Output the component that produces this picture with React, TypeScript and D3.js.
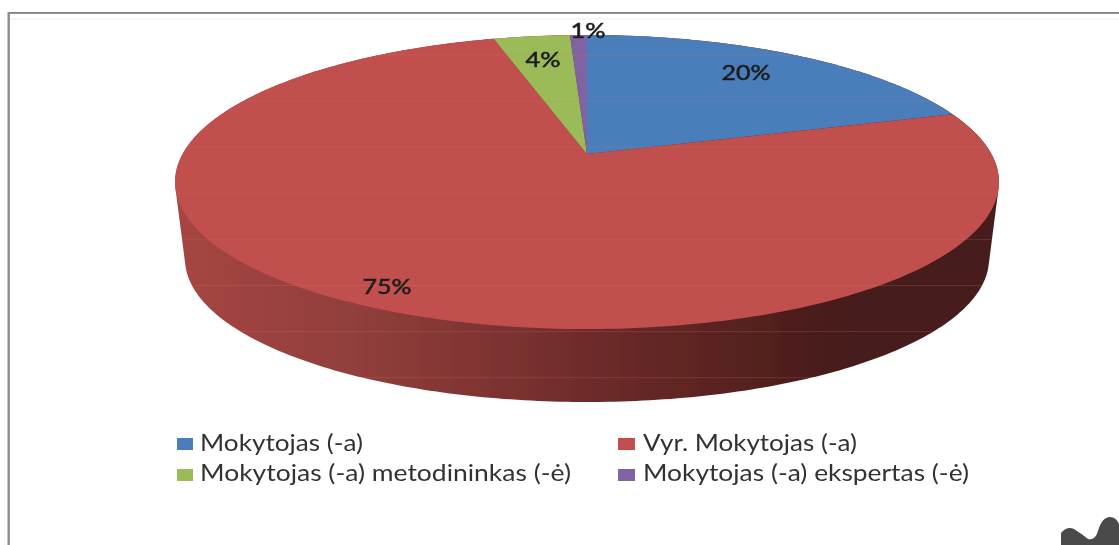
import React from "react";
import * as d3 from "d3";

const categories = ["Mokytojas (-a)", "Vyr. Mokytojas (-a)", "Mokytojas (-a) metodininkas (-ė)", "Mokytojas (-a) ekspertas (-ė)"];
const shares = [20.2, 75.4, 3.6, 0.8];
const sliceLabels = ["20%", "75%", "4%", "1%"];
const colors = ["#4a7ebb", "#c0504d", "#9bbb59", "#8064a2"];

const W = 1119, H = 545;
// perspective mapping of the disc
const CX = 587, APEX_Y = 154, K = 0.1905, A = 404.4, B = 141.7;
const BOTTOM = { cx: 587, cy: 259, rx: 402, ry: 143 };
const labelCenters = [[746, 73], [387, 287], [543, 60], [588, 31]];
const legendCells = [
  { swatch: [177, 438, 16, 12], x: 200, y: 451, w: 163 },
  { swatch: [618, 438, 17, 12], x: 643, y: 451, w: 214 },
  { swatch: [177, 469, 16, 12], x: 200, y: 481, w: 371 },
  { swatch: [618, 469, 17, 12], x: 643, y: 481, w: 326 },
];

const project = (theta: number, r = 1): [number, number] => {
  const w = 1 + K * r * Math.cos(theta);
  return [CX + (A * r * Math.sin(theta)) / w, APEX_Y - (B * r * Math.cos(theta)) / w];
};

const arcs = d3.pie<number>().sort(null).value((d) => d)(shares);
const line = d3.line();

const slicePath = (a: d3.PieArcDatum<number>) => {
  const steps = Math.max(4, Math.ceil((a.endAngle - a.startAngle) * 60));
  const pts = d3.range(steps + 1).map((i) => project(a.startAngle + ((a.endAngle - a.startAngle) * i) / steps));
  return line([[CX, APEX_Y], ...pts]) + "Z";
};

const ring = d3.range(360).map((i) => (i * Math.PI) / 180);
const topRing = ring.map((t) => project(t));
const bottomRing = ring.map((t): [number, number] => [BOTTOM.cx + BOTTOM.rx * Math.sin(t), BOTTOM.cy - BOTTOM.ry * Math.cos(t)]);
const hull = d3.polygonHull([...topRing, ...bottomRing])!;
const hullPath = line(hull) + "Z";
const scanLines = d3.range(55, 400, 46.1);

const sideStops = [
  [0.0, "#a64542"], [0.2, "#93403d"], [0.4, "#7c3230"], [0.52, "#6c2a29"], [0.74, "#4f1f1d"], [0.82, "#471c1a"], [1, "#471c1a"],
];

export default function App() {
  return (
    <svg width={W} height={H} style={{ position: "absolute", left: 0, top: 0, display: "block", background: "#fff" }}>
      <defs>
        <linearGradient id="side" x1="175" x2="999" y1="0" y2="0" gradientUnits="userSpaceOnUse">
          {sideStops.map(([o, c]) => <stop key={o as number} offset={o as number} stopColor={c as string} />)}
        </linearGradient>
        <clipPath id="disc"><path d={hullPath} /></clipPath>
        <filter id="soft" x="-5%" y="-5%" width="110%" height="110%"><feGaussianBlur stdDeviation="0.55" /></filter>
      </defs>

      <rect x={8} y={12} width={W - 8} height={1.8} fill="#7f7f7f" />
      <rect x={10} y={18.5} width={W - 10} height={1} fill="#ececec" />
      <rect x={7.5} y={12} width={2.4} height={H - 12} fill="#8c8c8c" />

      <g filter="url(#soft)">
        <path d={hullPath} fill="url(#side)" />
        {arcs.map((a, i) => <path key={i} d={slicePath(a)} fill={colors[i]} />)}
      </g>
      <g clipPath="url(#disc)">
        {scanLines.map((y) => <line key={y} x1={0} x2={W} y1={y} y2={y} stroke="#d9776f" strokeOpacity={0.22} strokeWidth={1} />)}
      </g>

      <g filter="url(#soft)" fontFamily="Lato, 'Open Sans', sans-serif" fontSize={21} fill="#1c1c1c" stroke="#1c1c1c" strokeWidth={0.5} textAnchor="middle">
        {sliceLabels.map((t, i) => (
          <text key={t} x={labelCenters[i][0]} y={labelCenters[i][1] + 7} textLength={t.length === 3 ? 49 : 35} lengthAdjust="spacingAndGlyphs">{t}</text>
        ))}
      </g>

      <g filter="url(#soft)" fontFamily="Lato, 'Open Sans', sans-serif" fontSize={23} fill="#333">
        {categories.map((c, i) => {
          const l = legendCells[i];
          return (
            <g key={c}>
              <rect x={l.swatch[0]} y={l.swatch[1]} width={l.swatch[2]} height={l.swatch[3]} fill={colors[i]} />
              <text x={l.x} y={l.y} textLength={l.w} lengthAdjust="spacingAndGlyphs">{c}</text>
            </g>
          );
        })}
      </g>

      <path d="M1061 545 L1061 533 Q1067 526 1074 529 Q1082 534 1088 539 Q1095 541 1098 531 Q1102 517 1110 517 Q1116 517 1119 524 L1119 545 Z" fill="#4a4a4a" />
    </svg>
  );
}
